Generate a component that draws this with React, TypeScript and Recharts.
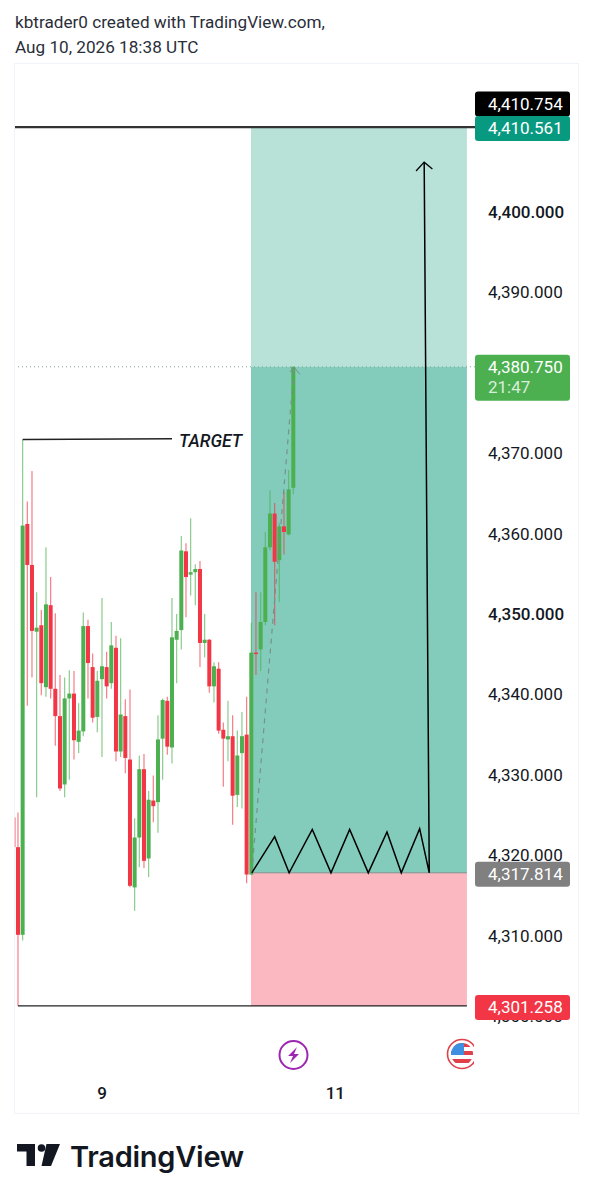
import { Bar, ComposedChart, Line, ReferenceArea, ReferenceDot, ReferenceLine, XAxis, YAxis } from 'recharts';

// bar index, one candle every 4.67px on the picture
const opens = [4321.0, 4310.1, 4361.2, 4356.1, 4347.8, 4348.6, 4340.9, 4351.1, 4340.7, 4337.3, 4328.8, 4339.5, 4340.1, 4334.1, 4335.4, 4348.5, 4343.4, 4337.2, 4341.9, 4343.4, 4341.4, 4345.8, 4332.9, 4337.3, 4331.9, 4316.0, 4322.2, 4330.7, 4319.6, 4326.8, 4326.6, 4334.5, 4339.2, 4333.4, 4346.8, 4348.0, 4357.8, 4354.9, 4355.2, 4355.6, 4346.4, 4346.8, 4341.0, 4343.2, 4335.6, 4334.4, 4334.8, 4327.5, 4332.7, 4335.0, 4317.6, 4345.2, 4345.6, 4349.0, 4358.3, 4362.5, 4356.7, 4360.9, 4359.9, 4365.7];
const highs = [4325.3, 4371.7, 4364.0, 4367.8, 4352.7, 4350.5, 4358.3, 4354.6, 4350.1, 4342.4, 4342.1, 4343.0, 4342.9, 4338.9, 4350.2, 4349.3, 4345.1, 4342.9, 4352.0, 4345.3, 4349.0, 4347.3, 4347.0, 4339.4, 4340.6, 4324.6, 4332.4, 4332.6, 4328.0, 4329.9, 4337.4, 4339.5, 4339.7, 4352.0, 4350.0, 4359.7, 4358.8, 4361.9, 4356.2, 4356.6, 4350.0, 4346.9, 4344.0, 4344.0, 4336.5, 4339.2, 4337.4, 4335.5, 4337.8, 4339.7, 4348.9, 4352.7, 4352.7, 4360.2, 4365.4, 4363.8, 4361.3, 4365.2, 4367.9, 4380.75];
const lows = [4301.26, 4309.4, 4338.6, 4342.1, 4327.2, 4339.9, 4339.7, 4339.5, 4333.6, 4328.0, 4327.2, 4329.4, 4331.9, 4332.7, 4334.8, 4339.5, 4336.5, 4335.3, 4332.2, 4339.5, 4340.7, 4331.7, 4332.2, 4330.2, 4316.0, 4313.1, 4318.5, 4318.4, 4317.3, 4324.1, 4322.8, 4329.4, 4332.5, 4331.4, 4341.4, 4345.6, 4349.6, 4352.3, 4351.1, 4343.4, 4344.6, 4340.2, 4339.0, 4335.1, 4328.5, 4331.7, 4323.8, 4326.0, 4325.8, 4316.5, 4317.5, 4342.4, 4342.9, 4348.6, 4357.9, 4348.6, 4351.5, 4357.4, 4359.8, 4364.9];
const closes = [4310.1, 4361.0, 4356.1, 4347.9, 4348.3, 4341.4, 4351.2, 4340.7, 4337.3, 4328.3, 4339.5, 4340.1, 4334.3, 4335.5, 4348.5, 4343.9, 4337.1, 4341.7, 4343.5, 4341.0, 4346.1, 4332.9, 4337.5, 4332.1, 4316.2, 4322.2, 4330.7, 4319.3, 4326.9, 4326.1, 4334.4, 4339.3, 4333.5, 4347.1, 4347.9, 4357.9, 4354.6, 4355.2, 4355.6, 4346.4, 4346.8, 4341.0, 4343.5, 4335.5, 4334.5, 4334.8, 4327.4, 4332.4, 4334.8, 4317.6, 4345.2, 4345.1, 4349.0, 4358.3, 4362.5, 4356.5, 4360.9, 4360.2, 4365.5, 4380.75];

const priceTicks = [4300, 4310, 4320, 4330, 4340, 4350, 4360, 4370, 4390, 4400];
const boldTicks = [4350, 4400];
const dayTicks = [18, 68];
const dayLabels: Record<number, string> = { 18: '9', 68: '11' };

const takeProfit = 4410.561;
const lastPrice = 4380.75;
const entry = 4317.814;
const stopLoss = 4301.258;
const crosshairPrice = 4410.754;
const targetPrice = 4371.7;

const zigzag = [
  { i: 50.1, p: 4317.81 }, { i: 55.0, p: 4322.3 }, { i: 58.1, p: 4317.81 }, { i: 63.06, p: 4323.2 },
  { i: 67.07, p: 4317.81 }, { i: 71.07, p: 4323.2 }, { i: 75.06, p: 4317.81 }, { i: 79.07, p: 4322.9 },
  { i: 82.13, p: 4317.81 }, { i: 86.07, p: 4323.3 }, { i: 88.13, p: 4317.81 }, { i: 87.04, p: 4406.2 },
];
const arrowHead = [{ i: 85.3, p: 4405.1 }, { i: 87.04, p: 4406.2 }, { i: 88.8, p: 4405.35 }];
const dashed = [{ i: 50.1, p: 4317.81 }, { i: 59.15, p: 4380.7 }];
const dashedHead = [{ i: 58.3, p: 4380.1 }, { i: 59.15, p: 4380.7 }, { i: 60.4, p: 4379.8 }];

const candles = opens.map((open, k) => ({ i: k, open, high: highs[k], low: lows[k], close: closes[k] }));

const X_DOMAIN = [-0.643, 97.93];
const Y_DOMAIN = [4296.27, 4418.41];
const GREEN = '#4caf50';
const RED = '#f23645';
const FONT = 'Roboto, sans-serif';
const BODY_W = 4;

function Candle(props: any) {
  const { x, y, width, height, payload } = props;
  const { open, close, high, low } = payload;
  const color = close >= open ? GREEN : RED;
  const unit = height / (high - low);
  const top = y + (high - Math.max(open, close)) * unit;
  const bodyH = Math.max(Math.abs(open - close) * unit, 1.5);
  const mid = x + (width || 0) / 2;
  return (
    <g>
      <line x1={mid} x2={mid} y1={y} y2={y + height} stroke={color} strokeWidth={1.2} strokeOpacity={0.65} />
      <rect x={mid - BODY_W / 2} y={top} width={BODY_W} height={bodyH} fill={color} />
    </g>
  );
}

function PriceTick(props: any) {
  const { x, y, payload } = props;
  const bold = boldTicks.includes(payload.value);
  return (
    <text x={x + 13} y={y + 6} fontFamily={FONT} fontSize={17} fontWeight={bold ? 500 : 400} fill="#131722">
      {payload.value.toLocaleString('en-US', { minimumFractionDigits: 3 })}
    </text>
  );
}

function DayTick(props: any) {
  const { x, y, payload } = props;
  return (
    <text x={x} y={y + 45} textAnchor="middle" fontFamily={FONT} fontSize={17} fontWeight={500} fill="#131722">
      {dayLabels[payload.value]}
    </text>
  );
}

function PriceTag({ viewBox, text, fill, shift = 0, sub }: any) {
  const top = viewBox.y + shift - 12;
  return (
    <g>
      <rect x={475} y={top} width={95} height={sub ? 46 : 25} rx={3} fill={fill} />
      <text x={488} y={top + 18} fontFamily={FONT} fontSize={17} fill="#fff">{text}</text>
      {sub && <text x={488} y={top + 38} fontFamily={FONT} fontSize={17} fill="#fff" fillOpacity={0.8}>{sub}</text>}
    </g>
  );
}

function TargetLabel({ viewBox }: any) {
  return (
    <text x={179} y={viewBox.y + 7} fontFamily={FONT} fontSize={17.5} fontStyle="italic" fontWeight={500} fill="#131722">
      TARGET
    </text>
  );
}

function Decorations() {
  return (
    <svg width={592} height={1199} style={{ position: 'absolute', left: 0, top: 0, pointerEvents: 'none' }}>
      <defs>
        <clipPath id="flagClip"><rect x={440} y={1030} width={34} height={50} /></clipPath>
        <clipPath id="flagInner"><circle cx={462} cy={1054} r={11} /></clipPath>
      </defs>
      {/* lightning event */}
      <circle cx={293.5} cy={1055} r={14} fill="#fff" stroke="#9c27b0" strokeWidth={2} />
      <path d="M297 1047 L288 1056 L293 1056 L290 1063 L299 1054 L294 1054 Z" fill="#9c27b0" />
      {/* US event */}
      <g clipPath="url(#flagClip)">
        <circle cx={462} cy={1054} r={14.5} fill="#fff" stroke="#e0404a" strokeWidth={1.6} />
        <g clipPath="url(#flagInner)">
          <rect x={451} y={1043} width={24} height={22} fill="#fff" />
          <rect x={451} y={1043} width={24} height={4} fill="#e0404a" />
          <rect x={451} y={1051} width={24} height={4} fill="#e0404a" />
          <rect x={451} y={1059} width={24} height={4} fill="#e0404a" />
          <rect x={451} y={1043} width={13} height={12} fill="#3f8fe0" />
        </g>
      </g>
      {/* logo */}
      <path d="M17 1144 H35 V1166 H26.5 V1151.5 H17 Z" fill="#131722" />
      <circle cx={41.5} cy={1148} r={3.8} fill="#131722" />
      <path d="M46.5 1144 H60 L51 1166 H41.5 Z" fill="#131722" />
      <text x={70} y={1167} fontFamily="Inter, sans-serif" fontSize={29} fontWeight={600} letterSpacing={-0.25} fill="#131722">
        TradingView
      </text>
    </svg>
  );
}

export default function App() {
  return (
    <div style={{ position: 'absolute', left: 0, top: 0, width: 592, height: 1199, background: '#fff', overflow: 'hidden' }}>
      <div style={{ position: 'absolute', left: 15, top: 10, fontFamily: FONT, fontSize: 17.15, color: '#2a2e39', lineHeight: '24.5px', whiteSpace: 'nowrap' }}>
        kbtrader0 created with TradingView.com,<br />Aug 10, 2026 18:38 UTC
      </div>
      <div style={{ position: 'absolute', left: 14, top: 63, width: 563, height: 1049, border: '1px solid #f0f3fa' }} />
      <div style={{ position: 'absolute', left: 0, top: 0 }}>
        <ComposedChart width={592} height={1199} data={candles} margin={{ top: 64, right: 0, bottom: 87, left: 15 }} barSize={4}>
          <XAxis
            dataKey="i"
            type="number"
            domain={X_DOMAIN}
            allowDataOverflow
            ticks={dayTicks}
            interval={0}
            height={66}
            axisLine={false}
            tickLine={false}
            tick={<DayTick />}
          />
          <YAxis
            orientation="right"
            type="number"
            domain={Y_DOMAIN}
            allowDataOverflow
            ticks={priceTicks}
            interval={0}
            width={117}
            axisLine={false}
            tickLine={false}
            tickSize={0}
            tickMargin={0}
            tick={<PriceTick />}
          />
          <ReferenceArea x1={49.93} x2={96.2} y1={lastPrice} y2={takeProfit} fill="#b8e2d8" fillOpacity={1} stroke="none" />
          <ReferenceArea x1={49.93} x2={96.2} y1={entry} y2={lastPrice} fill="#83ccbc" fillOpacity={1} stroke="none" />
          <ReferenceArea x1={49.93} x2={96.2} y1={stopLoss} y2={entry} fill="#fbb8c0" fillOpacity={1} stroke="none" />
          <ReferenceLine segment={[{ x: 49.93, y: entry }, { x: 96.2, y: entry }]} stroke="#78908a" strokeWidth={1} />
          <ReferenceLine y={lastPrice} stroke="#7fa89c" strokeWidth={1} strokeDasharray="1 3" />
          <ReferenceLine y={takeProfit} stroke="#333" strokeWidth={2.4} />
          <ReferenceLine segment={[{ x: 0, y: stopLoss }, { x: 96.2, y: stopLoss }]} stroke="#222" strokeWidth={1.4} />
          <ReferenceLine segment={[{ x: 1, y: targetPrice }, { x: 33, y: targetPrice + 0.1 }]} stroke="#222" strokeWidth={1.4} />
          <ReferenceLine segment={[{ x: -0.6, y: 4324.7 }, { x: -0.6, y: 4321 }]} stroke={RED} strokeOpacity={0.6} />
          <ReferenceDot x={36} y={targetPrice} r={0} fill="none" stroke="none" label={<TargetLabel />} />
          <Bar dataKey={(d: any) => [d.low, d.high]} shape={<Candle />} isAnimationActive={false} />
          <Line data={dashed} dataKey="p" stroke="#78908a" strokeWidth={1.2} strokeDasharray="5 5" dot={false} isAnimationActive={false} />
          <Line data={dashedHead} dataKey="p" stroke="#78908a" strokeWidth={1} dot={false} isAnimationActive={false} />
          <Line data={zigzag} dataKey="p" stroke="#000" strokeWidth={1.5} dot={false} isAnimationActive={false} />
          <Line data={arrowHead} dataKey="p" stroke="#000" strokeWidth={1.3} dot={false} isAnimationActive={false} />
        </ComposedChart>
      </div>
      {/* price tags have to sit above the axis labels, so they get their own layer on the same scales */}
      <div style={{ position: 'absolute', left: 0, top: 0 }}>
        <ComposedChart width={592} height={1199} data={candles} margin={{ top: 64, right: 117, bottom: 153, left: 15 }}>
          <XAxis dataKey="i" type="number" domain={X_DOMAIN} allowDataOverflow hide />
          <YAxis type="number" domain={Y_DOMAIN} allowDataOverflow hide />
          <ReferenceLine y={crosshairPrice} stroke="none" label={<PriceTag text="4,410.754" fill="#000" shift={-22} />} />
          <ReferenceLine y={takeProfit} stroke="none" label={<PriceTag text="4,410.561" fill="#089981" shift={1} />} />
          <ReferenceLine y={lastPrice} stroke="none" label={<PriceTag text="4,380.750" fill={GREEN} sub="21:47" />} />
          <ReferenceLine y={entry} stroke="none" label={<PriceTag text="4,317.814" fill="#808080" shift={1} />} />
          <ReferenceLine y={stopLoss} stroke="none" label={<PriceTag text="4,301.258" fill={RED} shift={1} />} />
        </ComposedChart>
      </div>
      <Decorations />
    </div>
  );
}
